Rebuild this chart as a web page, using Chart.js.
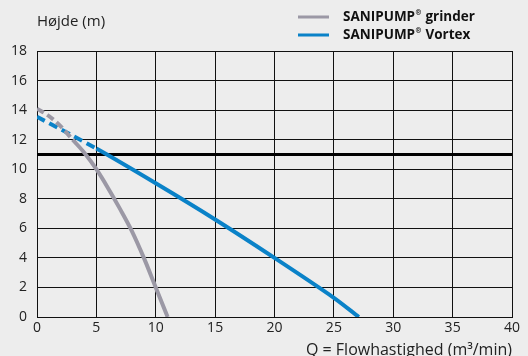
<!DOCTYPE html>
<html>
<head>
<meta charset="utf-8">
<script src="https://cdn.jsdelivr.net/npm/chart.js@4/dist/chart.umd.min.js"></script>
<style>
html, body { margin: 0; padding: 0; background: #ededed; }
#wrap { width: 528px; height: 356px; }
</style>
</head>
<body>
<div id="wrap"><canvas id="pumpChart" width="528" height="356"></canvas></div>
<script>
// series
var seriesNames = ["SANIPUMP® grinder", "SANIPUMP® Vortex"];
var grinderFlow = [0, 1, 2, 3, 4, 5, 6, 7, 8, 9, 10, 11];
var grinderHead = [14.1, 13.6, 12.9, 12.0, 11.1, 10.0, 8.7, 7.3, 5.8, 4.0, 2.0, 0];
var vortexFlow = [0, 5, 10, 15, 20, 25, 27.1];
var vortexHead = [13.55, 11.4, 9.05, 6.6, 4.0, 1.3, 0];
var grinderDashTo = 3;   // dashed up to this flow
var vortexDashTo = 5;
var limitHead = 11;      // black reference line
// axes
var xTickMin = 0, xTickMax = 40, xTickStep = 5;
var yTickMin = 0, yTickMax = 18, yTickStep = 2;
var yTitle = "Højde (m)";
var xTitle = "Q = Flowhastighed (m³/min)";

var FONT = "'Open Sans'";
var grey = "#9b98a5";
var blue = "#0a82c8";

function toPoints(xs, ys) {
    return xs.map(function(x, i) { return {x: x, y: ys[i]}; });
}

function dashUntil(limit, pattern) {
    return function(ctx) {
        return ctx.p1.parsed.x <= limit ? pattern : undefined;
    };
}

// y title + legend are drawn by hand so the legend rows line up
var extras = {
    id: 'extras',
    afterDraw: function(chart) {
        var c = chart.ctx;
        var area = chart.chartArea;
        c.save();
        c.fillStyle = "#222";
        c.textBaseline = "middle";
        c.font = "15px " + FONT;
        c.textAlign = "left";
        c.fillText(yTitle, area.left, 22);

        var lx = 298, tx = 343;
        var rows = [17, 35];
        chart.data.datasets.forEach(function(ds, i) {
            if (!ds.label) return;
            var y = rows[i];
            c.fillStyle = ds.borderColor;
            c.fillRect(lx, y - 1.5, 31, 3);
            var parts = ds.label.split("®");
            c.fillStyle = "#111";
            c.font = "bold 13.5px " + FONT;
            c.fillText(parts[0], tx, y);
            var w = c.measureText(parts[0]).width;
            c.font = "bold 7px " + FONT;
            c.fillText("®", tx + w + 0.5, y - 4);
            var w2 = c.measureText("®").width;
            c.font = "bold 13.5px " + FONT;
            c.fillText(parts[1], tx + w + w2 + 1, y);
        });
        c.restore();
    }
};

var config = {
    type: 'line',
    data: {
        datasets: [{
            label: seriesNames[0],
            data: toPoints(grinderFlow, grinderHead),
            borderColor: grey,
            borderWidth: 4,
            pointRadius: 0,
            cubicInterpolationMode: 'monotone',
            segment: { borderDash: dashUntil(grinderDashTo, [8, 4]) }
        }, {
            label: seriesNames[1],
            data: toPoints(vortexFlow, vortexHead),
            borderColor: blue,
            borderWidth: 4,
            pointRadius: 0,
            tension: 0.3,
            segment: { borderDash: dashUntil(vortexDashTo, [9, 5]) }
        }, {
            label: '',
            data: [{x: xTickMin, y: limitHead}, {x: xTickMax, y: limitHead}],
            borderColor: "#000",
            borderWidth: 3,
            pointRadius: 0
        }]
    },
    options: {
        responsive: false,
        animation: false,
        layout: { padding: { top: 51, left: 0, right: 16, bottom: 0 } },
        plugins: {
            legend: { display: false },
            tooltip: { enabled: false }
        },
        scales: {
            x: {
                type: 'linear',
                min: xTickMin, max: xTickMax,
                afterFit: function(s) { s.height = 39; },
                ticks: { stepSize: xTickStep, color: "#222", font: { family: FONT, size: 14 }, padding: 3 },
                grid: { color: "#111", lineWidth: 1, drawTicks: false },
                border: { color: "#111", width: 1 },
                title: {
                    display: true, text: xTitle, align: 'end', color: "#222",
                    font: { family: FONT, size: 16 }, padding: { top: 0, bottom: -4 }
                }
            },
            y: {
                min: yTickMin, max: yTickMax,
                afterFit: function(s) { s.width = 37; },
                ticks: { stepSize: yTickStep, color: "#222", font: { family: FONT, size: 14 }, padding: 10 },
                grid: { color: "#111", lineWidth: 1, drawTicks: false },
                border: { color: "#111", width: 1 }
            }
        }
    },
    plugins: [extras]
};

var ctx = document.getElementById("pumpChart");
var pumpChart = new Chart(ctx, config);
</script>
</body>
</html>
